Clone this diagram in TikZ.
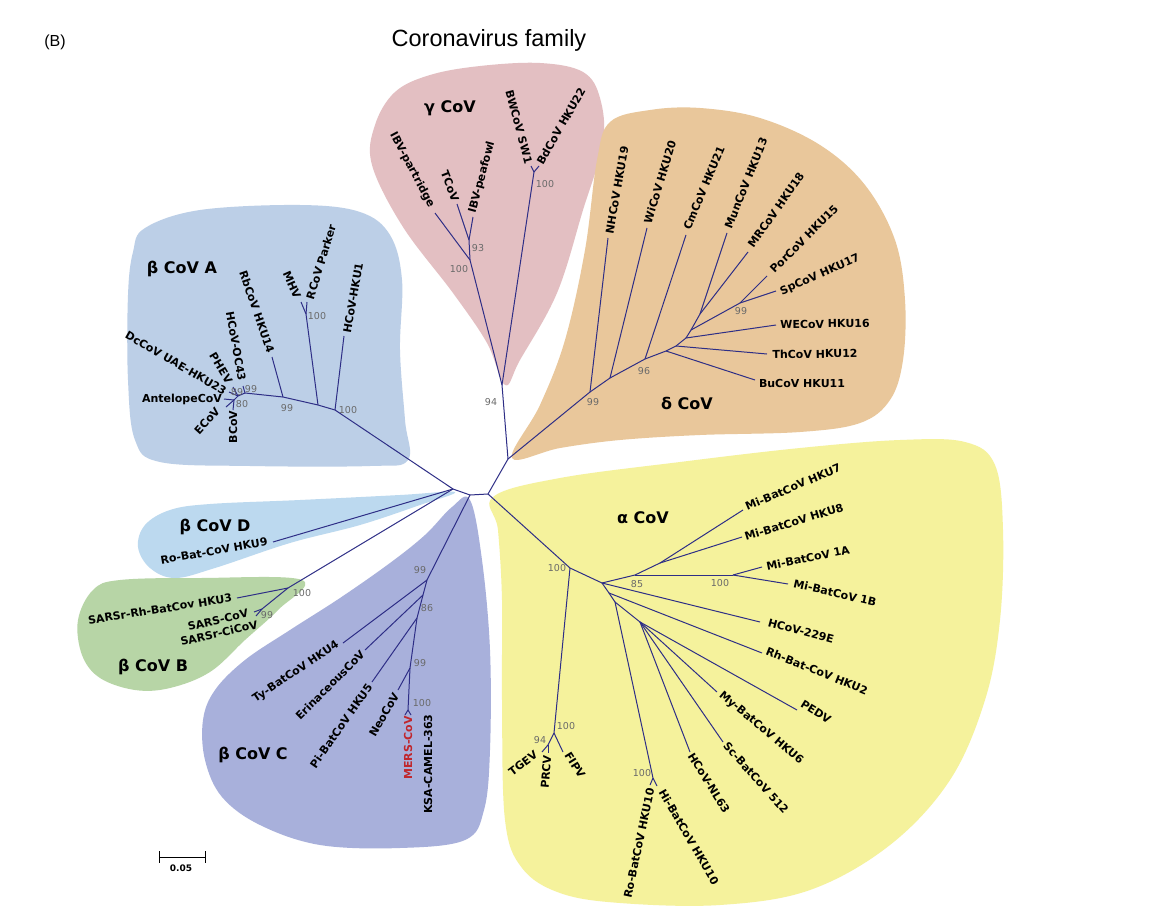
\documentclass[tikz,border=0pt]{standalone}
\usepackage{fontspec}
\newfontfamily\dvs{DejaVu Sans}
\newfontfamily\lib{Liberation Sans}
\definecolor{brc}{HTML}{2E2E86}
\definecolor{bsc}{HTML}{6A6A6A}
\definecolor{gamcol}{HTML}{E3BFC2}
\definecolor{delcol}{HTML}{E9C79B}
\definecolor{bacol}{HTML}{BCCFE7}
\definecolor{bdcol}{HTML}{BCD9EF}
\definecolor{bbcol}{HTML}{B7D5A6}
\definecolor{bccol}{HTML}{A8B0DB}
\definecolor{alcol}{HTML}{F5F29C}
\definecolor{merscol}{HTML}{C0272D}
\begin{document}
\begin{tikzpicture}[x=1pt,y=-1pt,
  br/.style={draw=brc, line width=1pt},
  lf/.style={font=\dvs\bfseries\fontsize{11}{13}\selectfont, inner sep=0pt},
  bs/.style={font=\dvs\fontsize{9.5}{11}\selectfont, text=bsc, inner sep=0pt},
  cl/.style={font=\dvs\bfseries\fontsize{16}{18}\selectfont, inner sep=0pt}]
\useasboundingbox (0,0) rectangle (1157,907);
\fill[white] (0,0) rectangle (1157,907);
% clade backgrounds
\fill[gamcol] plot[smooth cycle, tension=0.6] coordinates {(505,385) (487,343) (453,293) (403,227) (372,165) (375,125) (395,92) (430,75) (480,66) (540,63) (583,72) (600,98) (603,143) (583,210) (557,293) (520,360)};
\fill[delcol] plot[smooth cycle, tension=0.6] coordinates {(512,458) (540,405) (565,340) (585,250) (597,160) (610,122) (650,110) (700,108) (760,118) (820,145) (865,185) (895,240) (905,300) (903,360) (890,400) (860,423) (800,432) (700,435) (620,440) (560,448)};
\fill[bacol] plot[smooth cycle, tension=0.6] coordinates {(145,228) (200,210) (300,205) (360,212) (390,235) (402,280) (400,350) (405,420) (408,460) (370,466) (250,466) (160,462) (135,440) (128,380) (128,295) (133,252)};
\fill[bdcol] plot[smooth cycle, tension=0.6] coordinates {(455,492) (400,495) (300,500) (210,504) (170,510) (145,525) (138,547) (150,568) (175,578) (215,568) (290,543) (360,525) (420,505)};
\fill[bbcol] plot[smooth cycle, tension=0.6] coordinates {(302,580) (200,578) (120,580) (93,590) (78,620) (82,655) (100,678) (135,690) (170,688) (210,672) (245,640) (278,610)};
\fill[bccol] plot[smooth cycle, tension=0.6] coordinates {(470,500) (482,560) (490,650) (490,750) (484,810) (465,840) (400,848) (320,845) (260,825) (222,797) (205,760) (203,720) (215,690) (245,660) (290,630) (340,598) (390,563) (425,535) (452,507)};
\fill[alcol] plot[smooth cycle, tension=0.6] coordinates {(493,497) (560,478) (680,462) (800,448) (900,440) (965,442) (995,465) (1003,530) (1000,620) (985,700) (950,780) (890,845) (810,890) (720,905) (620,903) (560,893) (522,868) (505,820) (502,700) (502,600) (498,530)};
% tree coordinates
\coordinate (r1) at (453,489); \coordinate (r2) at (470,495);
\coordinate (r3) at (488,494); \coordinate (r4) at (508,459);
% gamma
\coordinate (g94) at (502,385); \coordinate (g100) at (470,260);
\coordinate (g93) at (469,240); \coordinate (gbd) at (534,172);
\coordinate (lIBVp) at (435,213); \coordinate (lTCoV) at (457,204);
\coordinate (lIBVpea) at (473,217); \coordinate (lBW) at (531,166);
\coordinate (lBd) at (539,166);
% delta
\coordinate (d0) at (590,392); \coordinate (d1) at (610,378);
\coordinate (d2) at (645,359); \coordinate (d3) at (666,351);
\coordinate (d4) at (676,346); \coordinate (d5) at (686,338);
\coordinate (d6) at (691,330); \coordinate (d7) at (700,314);
\coordinate (dp) at (740,303);
\coordinate (lNH) at (608,238); \coordinate (lWi) at (647,228);
\coordinate (lCm) at (686,235); \coordinate (lBu) at (755,380);
\coordinate (lTh) at (767,354); \coordinate (lWE) at (776,325);
\coordinate (lMun) at (727,233); \coordinate (lMR) at (748,252);
\coordinate (lPor) at (767,276); \coordinate (lSp) at (776,291);
% beta A
\coordinate (a1) at (335,410); \coordinate (a2) at (318,405);
\coordinate (amh) at (306,314); \coordinate (a3) at (283,397);
\coordinate (a4) at (245,393); \coordinate (a5) at (238,396);
\coordinate (a6) at (234,400);
\coordinate (lHKU1) at (344,336); \coordinate (lMHV) at (301,302);
\coordinate (lRCoV) at (307,302); \coordinate (lRb) at (272,357);
\coordinate (lOC43) at (243,386); \coordinate (lPHEV) at (233,387);
\coordinate (lDc) at (229,392); \coordinate (lAnt) at (224,399);
\coordinate (lE) at (226,407); \coordinate (lB) at (233,410);
% beta D, B
\coordinate (lRo9) at (273,542);
\coordinate (b1) at (288,588); \coordinate (b2) at (262,609);
\coordinate (lHKU3) at (237,598); \coordinate (lSARS) at (254,612);
\coordinate (lCi) at (256,616);
% beta C
\coordinate (c0) at (427,580); \coordinate (c1) at (423,595);
\coordinate (c2) at (417,618); \coordinate (c3) at (410,668);
\coordinate (c4) at (408,710);
\coordinate (lTy) at (343,643); \coordinate (lEri) at (365,650);
\coordinate (lPi) at (372,682); \coordinate (lNeo) at (398,690);
\coordinate (lMERS) at (405,715); \coordinate (lKSA) at (411,715);
% alpha
\coordinate (al0) at (570,568); \coordinate (al1) at (602,583);
\coordinate (m0) at (635,575); \coordinate (m1) at (660,563);
\coordinate (m2) at (733,575); \coordinate (al2) at (609,593);
\coordinate (al3) at (615,602); \coordinate (al4) at (640,622);
\coordinate (hk) at (653,778); \coordinate (t0) at (554,733);
\coordinate (t1) at (548,745);
\coordinate (l7) at (743,510); \coordinate (l8) at (742,537);
\coordinate (l1A) at (762,567); \coordinate (l1B) at (788,584);
\coordinate (l229) at (760,622); \coordinate (lRh2) at (762,653);
\coordinate (lPED) at (797,710); \coordinate (lMy6) at (717,692);
\coordinate (lSc) at (723,742); \coordinate (lNL) at (690,752);
\coordinate (lRo10) at (650,785); \coordinate (lHi10) at (657,786);
\coordinate (lTG) at (542,752); \coordinate (lPR) at (548,753);
\coordinate (lFI) at (563,752);
% branches
\foreach \a/\b in {r1/r2, r2/r3, r3/r4, r4/g94, r4/d0, r1/a1, r1/lRo9, r1/b1, r2/c0, r3/al0,
  g94/g100, g94/gbd, g100/lIBVp, g100/g93, g93/lTCoV, g93/lIBVpea, gbd/lBW, gbd/lBd,
  d0/lNH, d0/d1, d1/lWi, d1/d2, d2/lCm, d2/d3, d3/lBu, d3/d4, d4/lTh, d4/d5, d5/lWE, d5/d6,
  d6/d7, d7/lMun, d7/lMR, d6/dp, dp/lPor, dp/lSp,
  a1/lHKU1, a1/a2, a2/amh, amh/lMHV, amh/lRCoV, a2/a3, a3/lRb, a3/a4, a4/lOC43, a4/a5,
  a5/lPHEV, a5/lDc, a5/a6, a6/lAnt, a6/lE, a6/lB,
  b1/lHKU3, b1/b2, b2/lSARS, b2/lCi,
  c0/lTy, c0/c1, c1/lEri, c1/c2, c2/lPi, c2/c3, c3/lNeo, c3/c4, c4/lMERS, c4/lKSA,
  al0/t0, t0/lFI, t0/t1, t1/lTG, t1/lPR, al0/al1, al1/m0, m0/m1, m1/l7, m1/l8, m0/m2,
  m2/l1A, m2/l1B, al1/l229, al1/al2, al2/lRh2, al2/al3, al3/hk, hk/lRo10, hk/lHi10,
  al3/al4, al4/lPED, al4/lMy6, al4/lSc, al4/lNL}
  \draw[br] (\a) -- (\b);
% leaf labels gamma
\node[lf, rotate=-62] (tIBVp) at (412,170) {IBV-partridge};
\node[lf, rotate=-69] (tTCoV) at (450,186) {TCoV};
\node[lf, rotate=75] (tIBVpea) at (482,177) {IBV-peafowl};
\node[lf, rotate=-75] (tBW) at (519,127) {BWCoV SW1};
\node[lf, rotate=60] (tBd) at (561,126) {BdCoV HKU22};
% delta
\node[lf, rotate=80] (tNH) at (617,190) {NHCoV HKU19};
\node[lf, rotate=73] (tWi) at (660,182) {WiCoV HKU20};
\node[lf, rotate=67] (tCm) at (704,188) {CmCoV HKU21};
\node[lf, rotate=68] (tMun) at (746,183) {MunCoV HKU13};
\node[lf, rotate=55] (tMR) at (776,210) {MRCoV HKU18};
\node[lf, rotate=45] (tPor) at (804,239) {PorCoV HKU15};
\node[lf, rotate=24] (tSp) at (820,275) {SpCoV HKU17};
\node[lf, rotate=1] (tWE) at (825,324) {WECoV HKU16};
\node[lf, rotate=1] (tTh) at (815,354) {ThCoV HKU12};
\node[lf] (tBu) at (802,383) {BuCoV HKU11};
% beta A
\node[lf, rotate=80] (tHKU1) at (353,298) {HCoV-HKU1};
\node[lf, rotate=73] (tRCoV) at (321,262) {RCoV Parker};
\node[lf, rotate=-66] (tMHV) at (292,285) {MHV};
\node[lf, rotate=-71] (tRb) at (257,312) {RbCoV HKU14};
\node[lf, rotate=-80] (tOC43) at (236,346) {HCoV-OC43};
\node[lf, rotate=-59] (tPHEV) at (221,368) {PHEV};
\node[lf, rotate=-30] (tDc) at (176,363) {DcCoV UAE-HKU23};
\node[lf] (tAnt) at (182,399) {AntelopeCoV};
\node[lf, rotate=48] (tE) at (207,421) {ECoV};
\node[lf, rotate=90] (tB) at (233,427) {BCoV};
% beta D, B
\node[lf, rotate=10] (tRo9) at (214,551) {Ro-Bat-CoV HKU9};
\node[lf, rotate=9] (tHKU3) at (160,609) {SARSr-Rh-BatCov HKU3};
\node[lf, rotate=13] (tSARS) at (218,620) {SARS-CoV};
\node[lf, rotate=13] (tCi) at (219,633) {SARSr-CiCoV};
% beta C
\node[lf, rotate=34] (tTy) at (296,672) {Ty-BatCoV HKU4};
\node[lf, rotate=45] (tEri) at (330,685) {ErinaceousCoV};
\node[lf, rotate=55] (tPi) at (341,726) {Pi-BatCoV HKU5};
\node[lf, rotate=60] (tNeo) at (384,715) {NeoCoV};
\node[lf, rotate=90, text=merscol] (tMERS) at (408,748) {MERS-CoV};
\node[lf, rotate=90] (tKSA) at (428,764) {KSA-CAMEL-363};
% alpha
\node[lf, rotate=23] (t7) at (793,487) {Mi-BatCoV HKU7};
\node[lf, rotate=17] (t8) at (794,522) {Mi-BatCoV HKU8};
\node[lf, rotate=11.5] (t1A) at (808,558) {Mi-BatCoV 1A};
\node[lf, rotate=-13] (t1B) at (835,593) {Mi-BatCoV 1B};
\node[lf, rotate=-15] (t229) at (801,631) {HCoV-229E};
\node[lf, rotate=-22] (tRh2) at (817,671) {Rh-Bat-CoV HKU2};
\node[lf, rotate=-32] (tPED) at (816,712) {PEDV};
\node[lf, rotate=-40] (tMy6) at (761,728) {My-BatCoV HKU6};
\node[lf, rotate=-48] (tSc) at (756,778) {Sc-BatCoV 512};
\node[lf, rotate=-58] (tNL) at (709,783) {HCoV-NL63};
\node[lf, rotate=-60] (tHi10) at (689,837) {Hi-BatCoV HKU10};
\node[lf, rotate=78] (tRo10) at (639,843) {Ro-BatCoV HKU10};
\node[lf, rotate=37] (tTG) at (523,763) {TGEV};
\node[lf, rotate=85] (tPR) at (546,772) {PRCV};
\node[lf, rotate=-58] (tFI) at (575,765) {FIPV};
% bootstrap values
\node[bs] (s1) at (545,184) {100};
\node[bs] (s2) at (478,248) {93};
\node[bs] (s3) at (459,269) {100};
\node[bs] (s4) at (491,402) {94};
\node[bs] (s5) at (741,311) {99};
\node[bs] (s6) at (644,371) {96};
\node[bs] (s7) at (593,402) {99};
\node[bs] (s8) at (317,316) {100};
\node[bs] (s9) at (348,410) {100};
\node[bs] (s10) at (287,408) {99};
\node[bs] (s11) at (251,389) {99};
\node[bs] (s12) at (237,392) {89};
\node[bs] (s13) at (242,404) {80};
\node[bs] (s14) at (302,593) {100};
\node[bs] (s15) at (267,615) {99};
\node[bs] (s16) at (420,570) {99};
\node[bs] (s17) at (427,608) {86};
\node[bs] (s18) at (420,663) {99};
\node[bs] (s19) at (422,703) {100};
\node[bs] (s20) at (557,568) {100};
\node[bs] (s21) at (637,584) {85};
\node[bs] (s22) at (720,583) {100};
\node[bs] (s23) at (566,726) {100};
\node[bs] (s24) at (540,740) {94};
\node[bs] (s25) at (642,773) {100};
% clade labels
\node[cl] (kg) at (450,108) {γ CoV};
\node[cl] (kd) at (687,403) {δ CoV};
\node[cl] (ka) at (182,269) {β CoV A};
\node[cl] (kD) at (215,527) {β CoV D};
\node[cl] (kB) at (153,667) {β CoV B};
\node[cl] (kC) at (253,755) {β CoV C};
\node[cl] (kal) at (643,518) {α CoV};
% titles
\node[font=\lib\fontsize{23.5}{26}\selectfont, inner sep=0pt] (title) at (489,40) {Coronavirus family};
\node[font=\lib\fontsize{16}{18}\selectfont, inner sep=0pt] (panel) at (55,42) {(B)};
% scale bar
\coordinate (sb1) at (159,857); \coordinate (sb2) at (205,857);
\coordinate (sb1t) at (159,851); \coordinate (sb1b) at (159,863);
\coordinate (sb2t) at (205,851); \coordinate (sb2b) at (205,863);
\draw[line width=1pt] (sb1) -- (sb2);
\draw[line width=1pt] (sb1t) -- (sb1b);
\draw[line width=1pt] (sb2t) -- (sb2b);
\node[font=\dvs\bfseries\fontsize{9}{10}\selectfont, inner sep=0pt] (sbl) at (181,868) {0.05};
\end{tikzpicture}
\end{document}
